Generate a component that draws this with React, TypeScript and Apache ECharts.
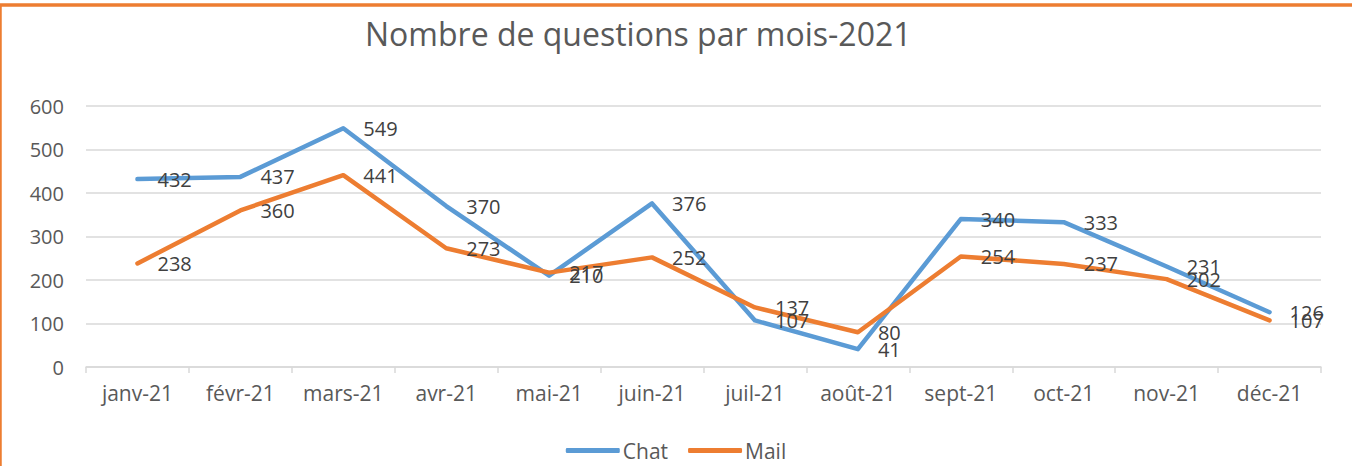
import React, { useEffect, useRef } from "react";
import * as echarts from "echarts";

const categories = ["janv-21", "févr-21", "mars-21", "avr-21", "mai-21", "juin-21", "juil-21", "août-21", "sept-21", "oct-21", "nov-21", "déc-21"];
const chatValues = [432, 437, 549, 370, 210, 376, 107, 41, 340, 333, 231, 126];
const mailValues = [238, 360, 441, 273, 217, 252, 137, 80, 254, 237, 202, 107];
const titleText = "Nombre de questions par mois-2021";

const FONT = "'Open Sans', 'Noto Sans', sans-serif";
const BLUE = "#5B9BD5";
const ORANGE = "#ED7D31";

export default function App() {
  const ref = useRef<HTMLDivElement>(null);
  useEffect(() => {
    if (!ref.current) return;
    const chart = echarts.init(ref.current, null, { renderer: "svg" });
    const labelStyle = {
      show: true,
      position: "right" as const,
      distance: 20,
      offset: [0, 3],
      color: "#404040",
      fontSize: 20,
      fontFamily: FONT,
    };
    chart.setOption({
      animation: false,
      backgroundColor: "#ffffff",
      graphic: [
        {
          type: "rect",
          shape: { x: 0, y: 5, width: 1400, height: 500 },
          style: { fill: "none", stroke: ORANGE, lineWidth: 3.5 },
          z: 100,
        },
      ],
      title: {
        text: titleText,
        left: 360,
        top: 12,
        textStyle: { color: "#595959", fontSize: 32, fontWeight: "normal", fontFamily: FONT },
      },
      legend: {
        data: [
          { name: "Chat", itemStyle: { color: BLUE } },
          { name: "Mail", itemStyle: { color: ORANGE } },
        ],
        left: "center",
        bottom: 0,
        itemWidth: 54,
        itemHeight: 5,
        itemGap: 20,
        icon: "roundRect",
        textStyle: { color: "#595959", fontSize: 21, fontFamily: FONT, padding: [0, 0, 0, -2] },
      },
      grid: { left: 86, right: 31, top: 106, bottom: 99, containLabel: false },
      xAxis: {
        type: "category",
        data: categories,
        boundaryGap: true,
        axisLine: { lineStyle: { color: "#d9d9d9", width: 1.5 } },
        axisTick: { show: true, interval: 0, length: 6, lineStyle: { color: "#d9d9d9", width: 1.5 } },
        axisLabel: { interval: 0, color: "#595959", fontSize: 21, fontFamily: FONT, margin: 15 },
      },
      yAxis: {
        type: "value",
        min: 0,
        max: 600,
        interval: 100,
        axisLine: { show: false },
        axisTick: { show: false },
        splitLine: { lineStyle: { color: "#d9d9d9", width: 1.5 } },
        axisLabel: { color: "#595959", fontSize: 20, fontFamily: FONT, margin: 22 },
      },
      series: [
        {
          name: "Chat",
          type: "line",
          data: chatValues,
          symbol: "circle",
          symbolSize: 0,
          showSymbol: true,
          lineStyle: { color: BLUE, width: 4.5, cap: "round", join: "round" },
          itemStyle: { color: BLUE },
          label: labelStyle,
          labelLayout: { hideOverlap: false },
        },
        {
          name: "Mail",
          type: "line",
          data: mailValues,
          symbol: "circle",
          symbolSize: 0,
          showSymbol: true,
          lineStyle: { color: ORANGE, width: 4.5, cap: "round", join: "round" },
          itemStyle: { color: ORANGE },
          label: labelStyle,
          labelLayout: { hideOverlap: false },
        },
      ],
    });
    return () => chart.dispose();
  }, []);
  return (
    <div
      ref={ref}
      style={{ position: "fixed", left: 0, top: 0, width: 1352, height: 466 }}
    />
  );
}
